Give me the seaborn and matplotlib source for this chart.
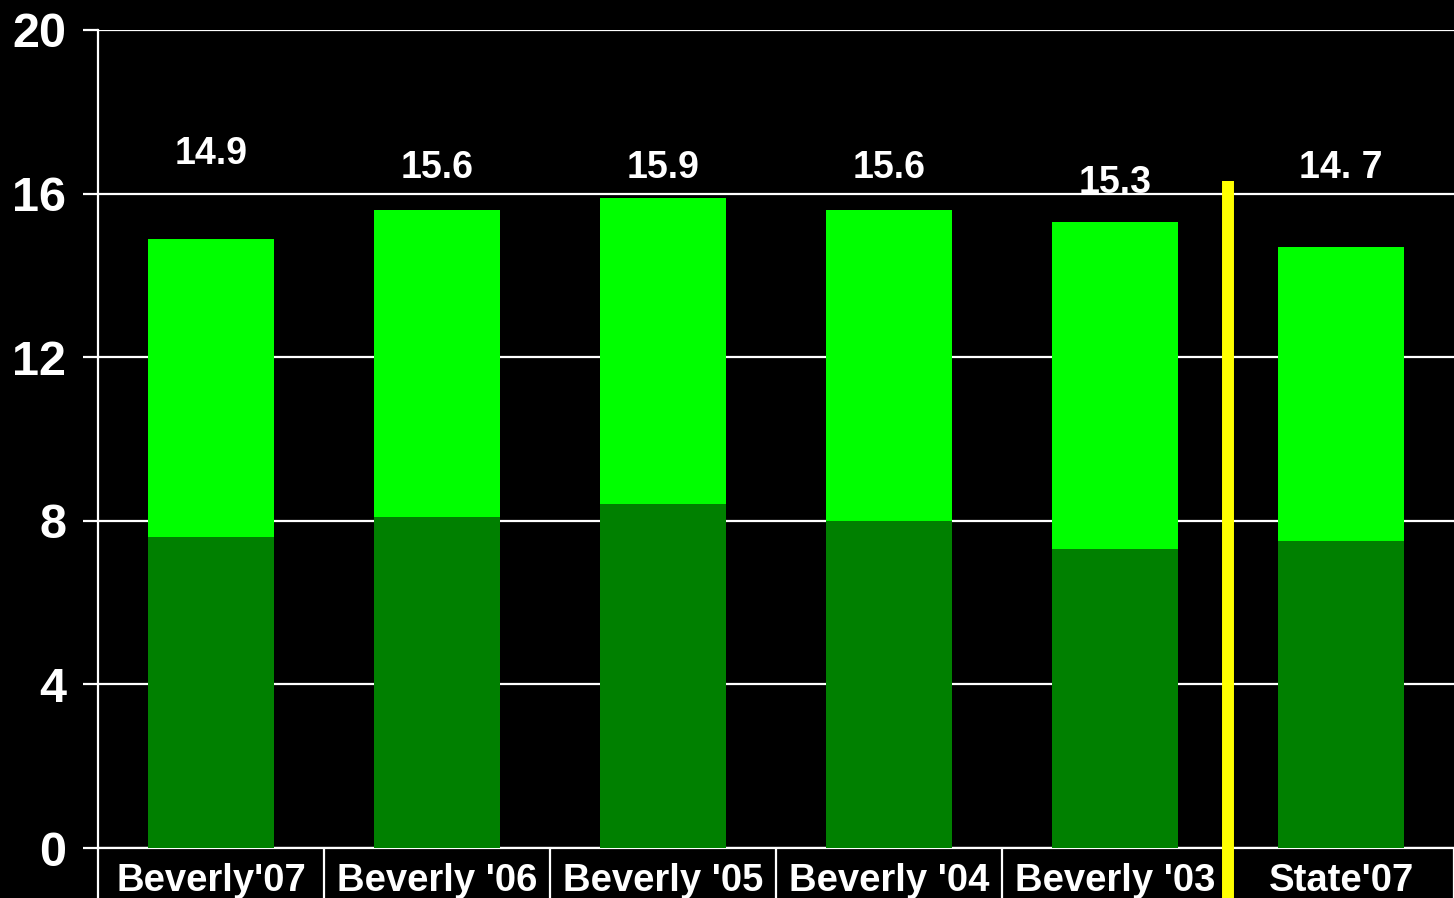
import matplotlib
matplotlib.use("Agg")
import matplotlib.pyplot as plt
import matplotlib.transforms as mtransforms
import pandas as pd
import seaborn as sns

# --- data ---
categories = ["Beverly'07", "Beverly '06", "Beverly '05", "Beverly '04", "Beverly '03", "State'07"]
totals = [14.9, 15.6, 15.9, 15.6, 15.3, 14.7]
lower = [7.6, 8.1, 8.4, 8.0, 7.3, 7.5]
value_labels = ["14.9", "15.6", "15.9", "15.6", "15.3", "14. 7"]
y_ticks = [0, 4, 8, 12, 16, 20]

# label heights in the picture are a bit uneven
label_y = [16.98, 16.63, 16.63, 16.63, 16.26, 16.63]

DARK = "#008000"
BRIGHT = "#00FF00"

sns.set_style("dark")
plt.rcParams["font.family"] = ["Liberation Sans", "DejaVu Sans"]
plt.rcParams["font.weight"] = "bold"

df = pd.DataFrame({"cat": categories, "total": totals, "lower": lower})

fig = plt.figure(figsize=(14.54, 8.98), dpi=100, facecolor="black")
ax = fig.add_axes([98 / 1454, 1 - 848 / 898, 1 - 98 / 1454, (848 - 30) / 898])
ax.set_facecolor("black")

# stacked look: full height in bright green, lower part on top in dark green
sns.barplot(data=df, x="cat", y="total", color=BRIGHT, saturation=1, width=0.56, ax=ax, zorder=3)
sns.barplot(data=df, x="cat", y="lower", color=DARK, saturation=1, width=0.56, ax=ax, zorder=3)
for p in ax.patches:
    p.set_edgecolor("none")

for i, (txt, yy) in enumerate(zip(value_labels, label_y)):
    ax.text(i, yy, txt, ha="center", va="center", color="white", fontsize=27, fontweight="bold")

ax.set_xlim(-0.5, len(categories) - 0.5)
ax.set_ylim(0, 20)
ax.set_yticks(y_ticks)
ax.set_xlabel("")
ax.set_ylabel("")

ax.grid(False)
ax.yaxis.grid(True, color="white", linewidth=1.6, zorder=1)
ax.set_axisbelow(True)

for side in ["top", "right"]:
    ax.spines[side].set_visible(False)
for side in ["left", "bottom"]:
    ax.spines[side].set_color("white")
    ax.spines[side].set_linewidth(1.6)

ax.tick_params(axis="y", left=True, colors="white", labelsize=35, length=11, width=1.6, pad=12,
               direction="out")
ax.tick_params(axis="x", bottom=True, colors="white", labelsize=27.5, length=0, pad=11)

# category separators hanging below the axis
ax.set_xticks([i - 0.5 for i in range(len(categories) + 1)], minor=True)
ax.tick_params(axis="x", which="minor", bottom=True, length=40, width=1.6, color="white",
               direction="out")

# yellow divider between Beverly and State
trans = mtransforms.blended_transform_factory(ax.transData, ax.transData)
ax.plot([4.5, 4.5], [16.3, -1.3], color="#FFFF00", linewidth=8.6, solid_capstyle="butt",
        clip_on=False, zorder=5, transform=trans)

fig.savefig("out.png", dpi=100, facecolor="black")
